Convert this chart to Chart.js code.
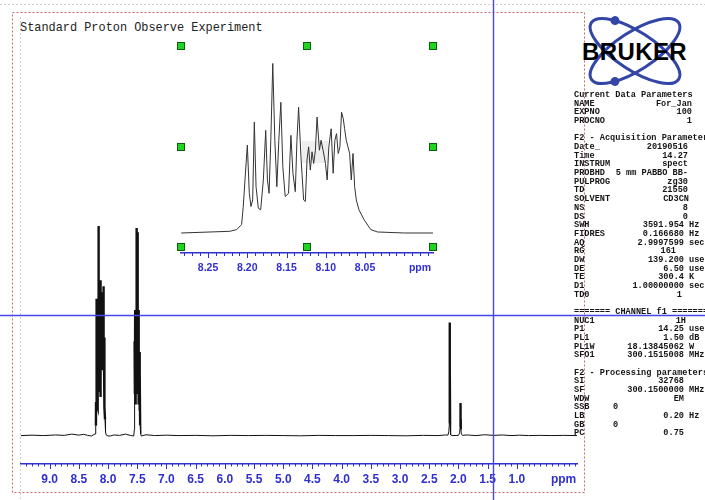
<!DOCTYPE html>
<html><head><meta charset="utf-8">
<script src="https://cdn.jsdelivr.net/npm/chart.js@4"></script>
<style>
html,body{margin:0;padding:0;background:#fff;width:705px;height:500px;overflow:hidden;position:relative;}
canvas{position:absolute;left:0;top:0;}
.title{position:absolute;left:20px;top:21.8px;font:11.9px/12px "Liberation Mono",monospace;color:#222;white-space:pre;}
.p{position:absolute;font:bold 8.6px/9px "Liberation Mono",monospace;color:#151515;white-space:pre;}
.h{position:absolute;width:6px;height:6px;background:#22d422;border:1px solid #0b5d0b;}
.logo{position:absolute;left:582px;top:39.7px;font:bold 24px/24px "Liberation Sans",Arial,sans-serif;letter-spacing:0.4px;color:#000;}
</style></head>
<body>
<svg width="705" height="500" style="position:absolute;left:0;top:0">
  <line x1="0" y1="4.5" x2="705" y2="4.5" stroke="#cfcfcf" stroke-dasharray="2 2"/>
  <line x1="20.5" y1="17" x2="20.5" y2="500" stroke="#cfcfcf" stroke-dasharray="2 2"/>
  <rect x="12.5" y="12.5" width="572" height="480" fill="none" stroke="#c46a6a" stroke-dasharray="2 2"/>
  <g transform="rotate(33 635 51)">
    <ellipse cx="635" cy="51" rx="52" ry="19" fill="none" stroke="#3345a6" stroke-width="3"/>
    <circle cx="601.6" cy="36.4" r="4.5" fill="#3345a6"/>
  </g>
  <g transform="rotate(-33 635 51)">
    <ellipse cx="635" cy="51" rx="52" ry="19" fill="none" stroke="#3345a6" stroke-width="3"/>
    <circle cx="601.6" cy="65.6" r="4.5" fill="#3345a6"/>
  </g>
  <rect x="302" y="141" width="26" height="22" fill="#eeeeee"/>
</svg>
<div class="logo">BRUKER</div>
<div class="title">Standard Proton Observe Experiment</div>
<canvas id="main" width="705" height="500"></canvas>
<canvas id="inset" width="705" height="500"></canvas>
<div id="overlay"></div>
<svg width="705" height="500" style="position:absolute;left:0;top:0;pointer-events:none">
  <line x1="0" y1="315.5" x2="705" y2="315.5" stroke="#4646ee" stroke-width="1.4"/>
  <line x1="493.5" y1="0" x2="493.5" y2="500" stroke="#4646ee" stroke-width="1.4"/>
</svg>
<script>
// ---- data (ppm, intensity) ----
const multipletA_ppm = [
  8.2841, 8.2222, 8.2136, 8.2072, 8.2051, 8.2029, 8.1999, 8.1974, 8.1953, 8.1931,
  8.1910, 8.1888, 8.1859, 8.1829, 8.1795, 8.1765, 8.1743, 8.1722, 8.1700, 8.1675,
  8.1649, 8.1623, 8.1598, 8.1572, 8.1547, 8.1517, 8.1474, 8.1444, 8.1418, 8.1388,
  8.1367, 8.1346, 8.1316, 8.1282, 8.1260, 8.1239, 8.1218, 8.1197, 8.1175, 8.1154,
  8.1132, 8.1111, 8.1081, 8.1060, 8.1034, 8.1004, 8.0982, 8.0961, 8.0931, 8.0906,
  8.0884, 8.0863, 8.0841, 8.0820, 8.0799, 8.0777, 8.0760, 8.0739, 8.0717, 8.0696,
  8.0675, 8.0653, 8.0632, 8.0611, 8.0577, 8.0512, 8.0427, 8.0341, 8.0000, 7.9615];
const multipletA_int = [
  0, 1.0, 2.0, 4.9, 15.6, 31.3, 51.8, 23.4, 15.6, 19.5,
  65.4, 27.3, 14.6, 13.7, 31.3, 60.5, 31.3, 23.4, 54.7, 100,
  54.7, 27.3, 54.7, 77.1, 39.1, 21.5, 23.4, 57.6, 35.2, 24.4,
  54.7, 74.2, 44.9, 19.5, 18.6, 43.0, 50.8, 37.1, 47.9, 41.0,
  48.8, 68.4, 48.8, 54.7, 48.8, 41.0, 31.3, 50.8, 61.5, 35.2,
  54.7, 58.6, 46.9, 50.8, 71.3, 67.4, 61.5, 54.7, 50.8, 46.9,
  31.3, 46.9, 27.3, 19.5, 13.7, 7.8, 2.0, 0.6, 0, 0];

const baseLeft_ppm = [9.49, 9.3, 9.1, 8.9, 8.75, 8.62, 8.5, 8.42, 8.35];
const baseLeft_int = [0.2, 0.4, 0.2, 0.5, 0.3, 0.9, 0.4, 0.8, 0.3];
const baseMid_ppm = [7.9, 7.8, 7.7, 7.62];
const baseMid_int = [0.5, 0.3, 0.9, 0.3];
const multipletB_ppm = [7.56, 7.55, 7.545, 7.54, 7.535, 7.53, 7.525, 7.52, 7.515, 7.51, 7.505, 7.50,
  7.495, 7.49, 7.485, 7.48, 7.475, 7.47, 7.465, 7.46, 7.455, 7.45, 7.44, 7.43];
const multipletB_int = [0, 3, 45, 20, 60, 15, 55, 25, 65, 20, 99, 40,
  97, 30, 60, 20, 55, 15, 40, 12, 30, 5, 1, 0];
const baseRight_ppm = [7.35, 7.2, 7.0, 6.8, 6.5, 6.2, 5.9, 5.6, 5.3, 5.0, 4.7, 4.4, 4.1, 3.8, 3.5, 3.2, 2.9, 2.6, 2.35, 2.22];
const baseRight_int = [0.6, 0.2, 0.4, 0.2, 0.3, 0.1, 0.3, 0.2, 0.3, 0.2, 0.1, 0.3, 0.2, 0.2, 0.3, 0.2, 0.1, 0.3, 0.2, 0.5];
const peakC_ppm = [2.18, 2.165, 2.155, 2.15, 2.147, 2.143, 2.138, 2.13, 2.11];
const peakC_int = [0.4, 2.0, 6, 54, 33, 6, 2, 0.6, 0.2];
const peakD_ppm = [2.0, 1.98, 1.972, 1.966, 1.962, 1.957, 1.95, 1.93];
const peakD_int = [0.3, 1.5, 4, 15.7, 8, 3, 1, 0.3];
const baseEnd_ppm = [1.85, 1.7, 1.55, 1.4, 1.25, 1.1, 0.95, 0.8, 0.6, 0.4, 0.2, -0.03];
const baseEnd_int = [0.5, 0.2, 0.6, 0.3, 0.5, 0.2, 0.4, 0.2, 0.3, 0.2, 0.3, 0.2];

// tick labels
const mainTickValues = [9.0, 8.5, 8.0, 7.5, 7.0, 6.5, 6.0, 5.5, 5.0, 4.5, 4.0, 3.5, 3.0, 2.5, 2.0, 1.5, 1.0];
const insetTickValues = [8.25, 8.20, 8.15, 8.10, 8.05];
const unitLabel = 'ppm';
const mainUnitAt = 0.2, insetUnitAt = 7.98;

// ---- parameter listing ----
const paramRows = [
  ['h','Current Data Parameters'],
  ['v','NAME','For_Jan','',692],
  ['v','EXPNO','100','',692],
  ['v','PROCNO','1','',692],
  null,
  ['h','F2 - Acquisition Parameters'],
  ['v','Date_','20190516','',688],
  ['v','Time','14.27','',688],
  ['v','INSTRUM','spect','',688],
  ['v','PROBHD','5 mm PABBO BB-','',688],
  ['v','PULPROG','zg30','',688],
  ['v','TD','21550','',688],
  ['v','SOLVENT','CD3CN','',689],
  ['v','NS','8','',688],
  ['v','DS','0','',688],
  ['v','SWH','3591.954','Hz',684],
  ['v','FIDRES','0.166680','Hz',684],
  ['v','AQ','2.9997599','sec',684],
  ['v','RG','161','',676],
  ['v','DW','139.200','usec',684],
  ['v','DE','6.50','usec',684],
  ['v','TE','300.4','K',684],
  ['v','D1','1.00000000','sec',684],
  ['v','TD0','1','',682],
  null,
  ['h','======= CHANNEL f1 ========'],
  ['v','NUC1','1H','',686],
  ['v','P1','14.25','usec',684],
  ['v','PL1','1.50','dB',684],
  ['v','PL1W','18.13845062','W',684],
  ['v','SFO1','300.1515008','MHz',684],
  null,
  ['h','F2 - Processing parameters'],
  ['v','SI','32768','',684],
  ['v','SF','300.1500000','MHz',684],
  ['v','WDW','EM','',684],
  ['l','SSB','0'],
  ['v','LB','0.20','Hz',684],
  ['l','GB','0'],
  ['v','PC','0.75','',684]
];

const overlay = document.getElementById('overlay');
function addDiv(cls, text, style) {
  const d = document.createElement('div');
  if (cls) d.className = cls;
  d.textContent = text;
  Object.assign(d.style, style);
  overlay.appendChild(d);
  return d;
}
paramRows.forEach((r, i) => {
  if (!r) return;
  const top = (95 + i * 8.675 - 3.94) + 'px';
  if (r[0] === 'h') { addDiv('p', r[1], {left: '574px', top}); return; }
  addDiv('p', r[1], {left: '574px', top});
  if (r[0] === 'l') { addDiv('p', r[2], {left: '613px', top}); return; }
  addDiv('p', r[2], {right: (705 - r[4]) + 'px', top});
  if (r[3]) addDiv('p', r[3], {left: '689px', top});
});

// handles
[[181,46],[307,46],[433,46],[181,147],[433,147],[181,247],[307,247],[433,247]].forEach(([x,y]) => {
  addDiv('h', '', {left: (x - 4) + 'px', top: (y - 4) + 'px'});
});

// ---- charts ----
const BLUE = '#3030d0';
function toPoints(xs, ys) { return xs.map((x, i) => ({x, y: ys[i]})); }
const mainPoints = [].concat(
  toPoints(baseLeft_ppm, baseLeft_int),
  toPoints(multipletA_ppm, multipletA_int),
  toPoints(baseMid_ppm, baseMid_int),
  toPoints(multipletB_ppm, multipletB_int),
  toPoints(baseRight_ppm, baseRight_int),
  toPoints(peakC_ppm, peakC_int),
  toPoints(peakD_ppm, peakD_int),
  toPoints(baseEnd_ppm, baseEnd_int)
);

function tickMarks(id, majorVals, majLen, minLen) {
  return {
    id,
    afterDraw(chart) {
      const s = chart.scales.x, ctx = chart.ctx, y = s.top;
      ctx.save();
      ctx.strokeStyle = BLUE; ctx.lineWidth = 1;
      ctx.beginPath();
      s.ticks.forEach(t => {
        const x = Math.round(s.getPixelForValue(t.value)) + 0.5;
        const major = majorVals.some(m => Math.abs(m - t.value) < 1e-6);
        ctx.moveTo(x, y); ctx.lineTo(x, y + (major ? majLen : minLen));
      });
      ctx.stroke();
      ctx.restore();
    }
  };
}

function labelFor(v, majors, unitAt, dec) {
  if (Math.abs(v - unitAt) < 1e-6) return unitLabel;
  const m = majors.find(t => Math.abs(t - v) < 1e-6);
  return m === undefined ? '' : m.toFixed(dec);
}

new Chart(document.getElementById('main'), {
  type: 'line',
  data: { datasets: [{ data: mainPoints, borderColor: '#111', borderWidth: 1, pointRadius: 0, tension: 0,
    segment: { borderWidth: c => (c.p0.parsed.y > 3 && c.p1.parsed.y > 3) ? 2.4 : 1 } }] },
  options: {
    responsive: false, animation: false, devicePixelRatio: 1,
    layout: { padding: { left: 21, right: 128, top: 20, bottom: 6 } },
    plugins: { legend: { display: false }, tooltip: { enabled: false } },
    scales: {
      x: {
        type: 'linear', reverse: true, min: -0.03, max: 9.49,
        afterBuildTicks: s => { const t = []; for (let k = 0; k <= 94; k++) t.push({value: k / 10}); s.ticks = t; },
        afterFit: s => { s.height = 30; },
        grid: { display: false, drawTicks: false },
        border: { display: true, color: BLUE, width: 1.5 },
        ticks: { autoSkip: false, maxRotation: 0, padding: 8, color: BLUE,
          font: { family: 'Liberation Sans, Arial, sans-serif', size: 12, weight: 'bold' },
          callback: v => labelFor(v, mainTickValues, mainUnitAt, 1) }
      },
      y: { display: false, min: -13.33, max: 198.1 }
    }
  },
  plugins: [tickMarks('mainTicks', mainTickValues, 5, 2.5)]
});

new Chart(document.getElementById('inset'), {
  type: 'line',
  data: { datasets: [{ data: toPoints(multipletA_ppm, multipletA_int), borderColor: '#333', borderWidth: 1, pointRadius: 0, tension: 0 }] },
  options: {
    responsive: false, animation: false, devicePixelRatio: 1,
    layout: { padding: { left: 181, right: 272, top: 46, bottom: 217 } },
    plugins: { legend: { display: false }, tooltip: { enabled: false } },
    scales: {
      x: {
        type: 'linear', reverse: true, min: 7.9634, max: 8.2844,
        afterBuildTicks: s => { const t = []; for (let k = 797; k <= 828; k++) t.push({value: k / 100}); s.ticks = t; },
        afterFit: s => { s.height = 30; },
        grid: { display: false, drawTicks: false },
        border: { display: true, color: BLUE, width: 1.5 },
        ticks: { autoSkip: false, maxRotation: 0, padding: 9, color: BLUE,
          font: { family: 'Liberation Sans, Arial, sans-serif', size: 10.5, weight: 'bold' },
          callback: v => labelFor(v, insetTickValues, insetUnitAt, 2) }
      },
      y: { display: false, min: -11.8, max: 110.3 }
    }
  },
  plugins: [tickMarks('insetTicks', insetTickValues, 5, 3)]
});
</script>
</body></html>
